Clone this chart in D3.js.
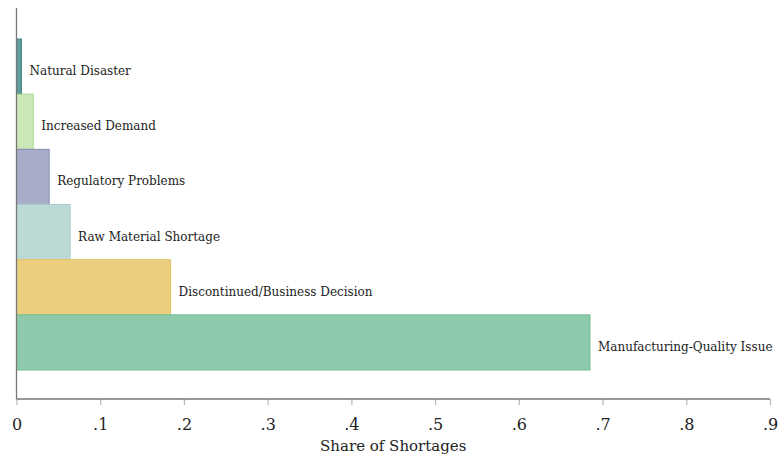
<!DOCTYPE html>
<html>
<head>
<meta charset="utf-8">
<script src="https://cdn.jsdelivr.net/npm/d3@7"></script>
<style>
  body { margin: 0; background: #fff; }
</style>
</head>
<body>
<div id="chart"></div>
<script>
var svgWidth = 778;
var svgHeight = 458;
var serif = "'DejaVu Serif', 'Liberation Serif', serif";

// data, top bar first
var causes = ["Natural Disaster", "Increased Demand", "Regulatory Problems",
  "Raw Material Shortage", "Discontinued/Business Decision", "Manufacturing-Quality Issue"];
var shares = [0.006, 0.020, 0.039, 0.064, 0.184, 0.685];
var fills = ["#5d9c9a", "#cde8b8", "#a9acc9", "#bcd9d5", "#ebce7e", "#8dcaac"];
var strokes = ["#4a8886", "#a9d88f", "#8589b2", "#a6cdc8", "#e3c162", "#72bc95"];
var xTicks = [0, .1, .2, .3, .4, .5, .6, .7, .8, .9];
var xTickLabels = ["0", ".1", ".2", ".3", ".4", ".5", ".6", ".7", ".8", ".9"];

var margin = { top: 8, left: 16.5, right: 8, bottom: 59 };
var width = svgWidth - margin.left - margin.right;
var height = svgHeight - margin.top - margin.bottom;

var svg = d3.select("#chart")
  .append("svg")
  .attr("width", svgWidth)
  .attr("height", svgHeight);

var chartGroup = svg.append("g")
  .attr("transform", `translate(${margin.left}, ${margin.top})`);

var x = d3.scaleLinear()
  .domain([0, .9])
  .range([0, 753.5]);

var y = d3.scaleBand()
  .domain(causes)
  .range([31, 362])
  .padding(0);

// bars
chartGroup.selectAll("rect.bar")
  .data(causes)
  .enter()
  .append("rect")
  .attr("class", "bar")
  .attr("x", 0)
  .attr("y", d => y(d))
  .attr("width", (d, i) => x(shares[i]))
  .attr("height", y.bandwidth())
  .attr("fill", (d, i) => fills[i])
  .attr("stroke", (d, i) => strokes[i])
  .attr("stroke-width", 1);

// bar labels
chartGroup.selectAll("text.lab")
  .data(causes)
  .enter()
  .append("text")
  .attr("class", "lab")
  .attr("x", (d, i) => x(shares[i]) + 8)
  .attr("y", d => y(d) + y.bandwidth() / 2 + 8.5)
  .style("font-family", serif)
  .style("font-size", "12px")
  .style("fill", "#222")
  .text(d => d);

// x axis
var bottomAxis = d3.axisBottom(x)
  .tickValues(xTicks)
  .tickFormat((d, i) => xTickLabels[i])
  .tickSize(6)
  .tickPadding(14);

var xAxisG = chartGroup.append("g")
  .attr("transform", `translate(0, ${height})`)
  .call(bottomAxis);

xAxisG.select(".domain").remove();
xAxisG.append("line")
  .attr("x1", 0).attr("x2", x(.9))
  .attr("stroke", "#777").attr("stroke-width", 1.3);
xAxisG.selectAll(".tick line").attr("stroke", "#bbb").attr("stroke-width", 1.3);
xAxisG.selectAll(".tick text")
  .style("font-family", serif)
  .style("font-size", "16px")
  .style("fill", "#222");

// y axis line
chartGroup.append("line")
  .attr("x1", 0).attr("x2", 0)
  .attr("y1", 0).attr("y2", height)
  .attr("stroke", "#777").attr("stroke-width", 1.3);

chartGroup.append("text")
  .attr("x", x(.45))
  .attr("y", height + 52)
  .attr("text-anchor", "middle")
  .style("font-family", serif)
  .style("font-size", "15px")
  .style("fill", "#222")
  .text("Share of Shortages");
</script>
</body>
</html>
